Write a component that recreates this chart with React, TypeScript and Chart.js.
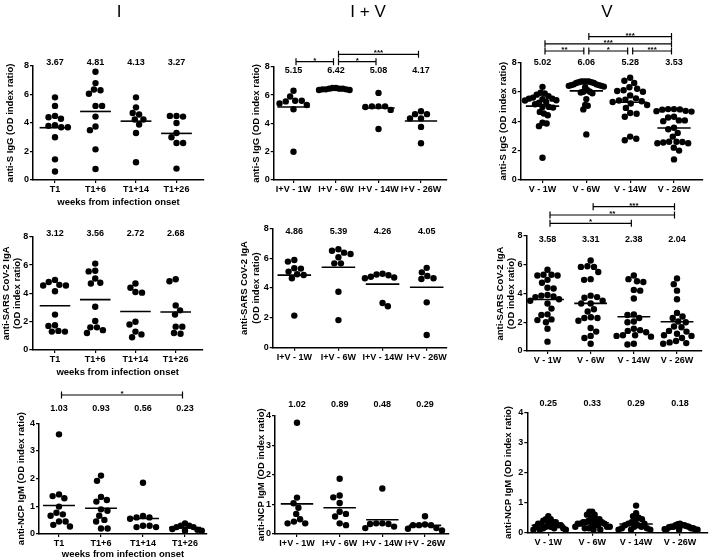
import React, { useEffect, useRef } from 'react';
import { Chart, registerables } from 'chart.js';

Chart.register(...registerables);

const FONT = "'Liberation Sans', Arial, Helvetica, sans-serif";

// ---------- categories ----------
const catsI = ['T1', 'T1+6', 'T1+14', 'T1+26'];
const catsIV = ['I+V - 1W', 'I+V - 6W', 'I+V - 14W', 'I+V - 26W'];
const catsV = ['V - 1W', 'V - 6W', 'V - 14W', 'V - 26W'];
const colTitles = ['I', 'I + V', 'V'];
const xTitle = 'weeks from infection onset';

// ---------- anti-S IgG ----------
const igG_I: number[][] = [
  [5.8, 5.2, 4.5, 4.4, 4.3, 3.85, 3.8, 3.7, 3.7, 3.0, 1.45, 0.6],
  [7.6, 6.8, 6.35, 6.3, 6.05, 5.2, 5.2, 4.45, 3.75, 3.5, 2.15, 0.77],
  [5.8, 5.1, 4.7, 4.6, 4.25, 4.25, 3.9, 3.3, 1.25],
  [4.5, 4.5, 4.45, 4.0, 3.3, 3.0, 2.6, 2.6, 0.8],
];
const igG_I_means = [3.67, 4.81, 4.13, 3.27];

const igG_IV: number[][] = [
  [6.3, 5.9, 5.6, 5.6, 5.55, 5.4, 5.3, 5.0, 2.0],
  [6.5, 6.5, 6.45, 6.45, 6.45, 6.4, 6.4, 6.4, 6.35, 6.35],
  [6.15, 5.2, 5.2, 5.2, 5.15, 4.95, 3.6],
  [4.85, 4.65, 4.65, 4.35, 4.35, 3.75, 2.6],
];
const igG_IV_means = [5.15, 6.42, 5.08, 4.17];
const igG_IV_sig: [number, number, number, string][] = [
  [1, 2, 0, '*'],
  [2, 3, 0, '*'],
  [2, 4, 1, '***'],
];

const igG_V: number[][] = [
  [6.33, 5.93, 5.88, 5.8, 5.7, 5.6, 5.53, 5.53, 5.5, 5.42, 5.4, 5.3, 5.25, 5.15, 4.97, 4.97, 4.92, 4.63, 4.52, 4.4, 3.89, 3.84, 3.66, 1.51],
  [6.7, 6.7, 6.7, 6.7, 6.65, 6.65, 6.6, 6.6, 6.5, 6.5, 6.45, 6.45, 6.4, 6.4, 6.35, 6.3, 6.1, 6.0, 6.0, 5.95, 5.9, 5.5, 5.1, 5.05, 4.8, 3.1],
  [6.95, 6.75, 6.6, 6.3, 6.2, 6.1, 6.05, 6.0, 5.75, 5.55, 5.45, 5.4, 5.35, 5.3, 5.2, 5.1, 4.9, 4.55, 4.5, 4.3, 2.95, 2.8, 2.7],
  [4.82, 4.82, 4.8, 4.78, 4.7, 4.68, 4.65, 4.3, 4.25, 4.05, 4.05, 4.0, 3.55, 3.45, 3.2, 2.95, 2.6, 2.6, 2.58, 2.55, 2.5, 2.5, 2.2, 2.0, 1.4],
];
const igG_V_means = [5.02, 6.06, 5.28, 3.53];
const igG_V_sig: [number, number, number, string][] = [
  [1, 2, 0, '**'],
  [2, 3, 0, '*'],
  [3, 4, 0, '***'],
  [1, 4, 1, '***'],
  [2, 4, 2, '***'],
];

// ---------- anti-SARS CoV-2 IgA ----------
const igA_I: number[][] = [
  [4.95, 4.8, 4.6, 4.55, 4.55, 4.15, 2.5, 1.75, 1.7, 1.35, 1.3, 1.3],
  [6.1, 5.6, 5.55, 5.05, 4.75, 4.7, 3.05, 2.05, 1.6, 1.6, 1.4, 1.2],
  [4.7, 4.4, 4.1, 4.05, 2.0, 1.8, 1.3, 1.1, 0.9],
  [5.0, 4.85, 3.15, 2.8, 2.5, 1.65, 1.65, 1.2, 1.15],
];
const igA_I_means = [3.12, 3.56, 2.72, 2.68];

const igA_IV: number[][] = [
  [5.88, 5.77, 5.32, 5.3, 5.1, 4.92, 4.87, 4.65, 2.15],
  [6.6, 6.5, 6.37, 6.28, 6.06, 5.65, 5.65, 3.75, 1.85],
  [4.95, 4.9, 4.85, 4.75, 4.7, 4.65, 3.0, 2.78],
  [5.35, 5.05, 4.8, 4.65, 4.6, 3.04, 0.85],
];
const igA_IV_means = [4.86, 5.39, 4.26, 4.05];

const igA_V: number[][] = [
  [5.65, 5.3, 5.3, 5.25, 5.25, 4.95, 4.75, 4.4, 4.35, 3.9, 3.85, 3.8, 3.75, 3.6, 3.5, 3.3, 2.95, 2.55, 2.5, 2.2, 2.15, 2.0, 1.55, 0.65],
  [6.3, 5.9, 5.85, 5.85, 5.5, 5.0, 4.95, 3.85, 3.75, 3.7, 3.5, 3.3, 3.3, 2.9, 2.75, 2.35, 2.3, 2.3, 2.1, 1.6, 1.35, 1.05, 0.9, 0.5],
  [5.25, 5.0, 4.85, 4.8, 4.25, 4.2, 3.65, 2.55, 2.5, 2.3, 2.05, 2.0, 1.55, 1.45, 1.4, 1.3, 1.1, 1.1, 1.05, 1.0, 0.5, 0.45],
  [5.05, 4.65, 4.2, 3.6, 2.65, 2.4, 2.3, 2.05, 2.0, 1.7, 1.65, 1.4, 1.35, 1.2, 1.05, 1.1, 0.9, 0.7, 0.6, 0.55, 0.5],
];
const igA_V_means = [3.58, 3.31, 2.38, 2.04];
const igA_V_sig: [number, number, number, string][] = [
  [1, 3, 0, '*'],
  [1, 4, 1, '**'],
  [2, 4, 2, '***'],
];

// ---------- anti-NCP IgM ----------
const igM_I: number[][] = [
  [3.6, 1.43, 1.37, 1.29, 0.99, 0.77, 0.71, 0.66, 0.45, 0.45, 0.33, 0.27],
  [2.11, 1.92, 1.34, 1.23, 1.17, 0.89, 0.84, 0.66, 0.51, 0.45, 0.2, 0.2],
  [1.85, 0.65, 0.6, 0.6, 0.55, 0.3, 0.25, 0.3, 0.25],
  [0.38, 0.3, 0.3, 0.25, 0.25, 0.18, 0.15, 0.12, 0.12],
];
const igM_I_means = [1.03, 0.93, 0.56, 0.23];
const igM_I_sig: [number, number, number, string][] = [[1, 4, 0, '*']];

const igM_IV: number[][] = [
  [3.76, 1.23, 1.04, 0.89, 0.68, 0.5, 0.42, 0.36, 0.36],
  [1.87, 1.3, 1.24, 1.05, 0.75, 0.68, 0.59, 0.36, 0.3],
  [1.54, 0.36, 0.36, 0.34, 0.34, 0.25, 0.2],
  [0.6, 0.32, 0.3, 0.3, 0.3, 0.2, 0.18, 0.12],
];
const igM_IV_means = [1.02, 0.89, 0.48, 0.29];

const igM_V: number[][] = [
  [0.55, 0.45, 0.45, 0.4, 0.35, 0.35, 0.3, 0.3, 0.3, 0.25, 0.25, 0.2, 0.2, 0.2, 0.15, 0.15, 0.15, 0.1, 0.1, 0.1],
  [0.7, 0.7, 0.6, 0.6, 0.5, 0.45, 0.45, 0.4, 0.4, 0.35, 0.35, 0.35, 0.3, 0.3, 0.3, 0.25, 0.25, 0.25, 0.2, 0.2, 0.2, 0.15, 0.15, 0.1, 0.1],
  [0.9, 0.65, 0.55, 0.5, 0.45, 0.4, 0.35, 0.3, 0.3, 0.25, 0.25, 0.2, 0.2, 0.15, 0.15, 0.1, 0.1, 0.1],
  [0.3, 0.28, 0.25, 0.25, 0.22, 0.2, 0.2, 0.18, 0.15, 0.15, 0.12, 0.12, 0.1, 0.1, 0.1, 0.2, 0.25],
];
const igM_V_means = [0.25, 0.33, 0.29, 0.18];

const titleS = ['anti-S IgG (OD index ratio)'];
const titleA = ['anti-SARS CoV-2 IgA', '(OD index ratio)'];
const titleM = ['anti-NCP IgM (OD index ratio)'];

// ---------- layout ----------
interface Panel {
  cats: string[];
  groups: number[][];
  means: number[];
  sig?: [number, number, number, string][];
  yMax: number;
  yStep: number;
  left: number; right: number; top: number; bottom: number;
  c1: number; c4: number;
  labelY: number;
  brY?: number; brStep?: number;
  yTitle: string[]; yTitleX: number[];
  xTitleY?: number;
  colTitle?: string; colTitleX?: number;
}

const panels: Panel[] = [
  { cats: catsI, groups: igG_I, means: igG_I_means, yMax: 8, yStep: 2,
    left: 33, right: 204, top: 66, bottom: 180, c1: 55, c4: 176.5, labelY: 63,
    yTitle: titleS, yTitleX: [10], xTitleY: 202, colTitle: colTitles[0], colTitleX: 119 },
  { cats: catsIV, groups: igG_IV, means: igG_IV_means, sig: igG_IV_sig, yMax: 8, yStep: 2,
    left: 273.7, right: 447, top: 66.7, bottom: 180, c1: 293.5, c4: 421, labelY: 71, brY: 61.7, brStep: 7.4,
    yTitle: titleS, yTitleX: [256.7], colTitle: colTitles[1], colTitleX: 368 },
  { cats: catsV, groups: igG_V, means: igG_V_means, sig: igG_V_sig, yMax: 8, yStep: 2,
    left: 520.7, right: 703, top: 62.3, bottom: 180, c1: 542.5, c4: 674, labelY: 63, brY: 51, brStep: 7.2,
    yTitle: titleS, yTitleX: [503], colTitle: colTitles[2], colTitleX: 607 },

  { cats: catsI, groups: igA_I, means: igA_I_means, yMax: 8, yStep: 2,
    left: 32.3, right: 203, top: 236.7, bottom: 350, c1: 55, c4: 175.7, labelY: 233.5,
    yTitle: titleA, yTitleX: [6.7, 17.5], xTitleY: 372 },
  { cats: catsIV, groups: igA_IV, means: igA_IV_means, yMax: 8, yStep: 2,
    left: 272.7, right: 447, top: 228.3, bottom: 347.7, c1: 294.3, c4: 426.7, labelY: 232,
    yTitle: titleA, yTitleX: [244.3, 256] },
  { cats: catsV, groups: igA_V, means: igA_V_means, sig: igA_V_sig, yMax: 8, yStep: 2,
    left: 526.5, right: 702, top: 236, bottom: 351, c1: 547.5, c4: 677, labelY: 240, brY: 223.3, brStep: 8.3,
    yTitle: titleA, yTitleX: [500, 511.5] },

  { cats: catsI, groups: igM_I, means: igM_I_means, sig: igM_I_sig, yMax: 4, yStep: 1,
    left: 39, right: 207, top: 423.3, bottom: 534, c1: 59, c4: 185, labelY: 409, brY: 395, brStep: 7,
    yTitle: titleM, yTitleX: [21.7], xTitleY: 554 },
  { cats: catsIV, groups: igM_IV, means: igM_IV_means, yMax: 4, yStep: 1,
    left: 275, right: 449, top: 415.7, bottom: 534, c1: 297, c4: 425, labelY: 405,
    yTitle: titleM, yTitleX: [261] },
  { cats: catsV, groups: igM_V, means: igM_V_means, yMax: 4, yStep: 1,
    left: 527.3, right: 708, top: 412.3, bottom: 532.7, c1: 548.3, c4: 680, labelY: 404,
    yTitle: titleM, yTitleX: [508.3] },
];

const W = 709;
const H = 560;
const Y_SCALE_W = 30;
const X_SCALE_H = 22;
const DOT_R = 3.2;
const MEAN_HALF = 0.38;
const SWARM_CAP = 0.4; // max half-width of a column, in category units

// beeswarm layout of a column (pixel-space collision avoidance, like a column scatter plot)
function swarm(vals: number[], pyPerUnit: number, pxPerCat: number, D: number): number[] {
  const order = vals.map((_, i) => i).sort((a, b) => vals[b] - vals[a]);
  const placed: { x: number; y: number }[] = [];
  const out: number[] = new Array(vals.length).fill(0);
  let flip = 1;
  for (const i of order) {
    const y = vals[i] * pyPerUnit;
    const ivs: [number, number][] = [];
    for (const p of placed) {
      const dy = Math.abs(p.y - y);
      if (dy < D) {
        const h = Math.sqrt(D * D - dy * dy);
        ivs.push([p.x - h, p.x + h]);
      }
    }
    const cands = [0];
    ivs.forEach(([a, b]) => cands.push(a, b));
    const ok = (c: number) => ivs.every(([a, b]) => c <= a + 1e-6 || c >= b - 1e-6);
    const valid = cands.filter(ok);
    valid.sort((a, b) => {
      const d = Math.abs(a) - Math.abs(b);
      if (Math.abs(d) > 1e-6) return d;
      return (a - b) * flip;
    });
    const x = valid[0];
    if (Math.abs(x) > 1e-6) flip = -flip;
    placed.push({ x, y });
    out[i] = x / pxPerCat;
  }
  const maxAbs = Math.max(...out.map((v) => Math.abs(v)));
  if (maxAbs > SWARM_CAP) return out.map((v) => (v * SWARM_CAP) / maxAbs);
  return out;
}

function makeChart(canvas: HTMLCanvasElement, p: Panel): Chart {
  const sp = (p.c4 - p.c1) / 3;
  const xMin = 1 - (p.c1 - p.left) / sp;
  const xMax = 4 + (p.right - p.c4) / sp;
  const pyPerUnit = (p.bottom - p.top) / p.yMax;

  const pointSets = p.groups.map((vals, g) => {
    const jit = swarm(vals, pyPerUnit, sp, DOT_R * 2 + 0.2);
    return {
      type: 'scatter' as const,
      data: vals.map((v, k) => ({ x: g + 1 + jit[k], y: v })),
      pointRadius: DOT_R,
      pointHoverRadius: DOT_R,
      backgroundColor: '#000',
      borderColor: '#000',
      borderWidth: 0,
      order: 2,
    };
  });
  const meanSets = p.means.map((m, g) => ({
    type: 'line' as const,
    data: [
      { x: g + 1 - MEAN_HALF, y: m },
      { x: g + 1 + MEAN_HALF, y: m },
    ],
    borderColor: '#000',
    borderWidth: 1.6,
    pointRadius: 0,
    fill: false,
    order: 1,
  }));

  const overlay = {
    id: 'overlay',
    afterDraw(chart: Chart) {
      const ctx = chart.ctx;
      const xs = chart.scales.x;
      const ca = chart.chartArea;
      ctx.save();
      ctx.fillStyle = '#000';
      ctx.strokeStyle = '#000';
      // mean labels
      ctx.font = `bold 9px ${FONT}`;
      ctx.textAlign = 'center';
      ctx.textBaseline = 'middle';
      p.means.forEach((m, i) => {
        ctx.fillText(m.toFixed(2), xs.getPixelForValue(i + 1), p.labelY);
      });
      // significance brackets
      (p.sig || []).forEach(([a, b, lvl, txt]) => {
        const y = (p.brY as number) - lvl * (p.brStep as number);
        const x1 = xs.getPixelForValue(a) + 2.5;
        const x2 = xs.getPixelForValue(b) - 2.5;
        ctx.lineWidth = 1.2;
        ctx.beginPath();
        ctx.moveTo(x1, y);
        ctx.lineTo(x2, y);
        ctx.moveTo(x1, y - 3.5);
        ctx.lineTo(x1, y + 3.5);
        ctx.moveTo(x2, y - 3.5);
        ctx.lineTo(x2, y + 3.5);
        ctx.stroke();
        ctx.font = `bold 8px ${FONT}`;
        ctx.textBaseline = 'alphabetic';
        ctx.fillText(txt, (x1 + x2) / 2, y + 1);
      });
      // y axis title
      ctx.font = `bold 9.5px ${FONT}`;
      const cy = (ca.top + ca.bottom) / 2;
      p.yTitle.forEach((t, k) => {
        ctx.save();
        ctx.translate(p.yTitleX[k], cy);
        ctx.rotate(-Math.PI / 2);
        ctx.textAlign = 'center';
        ctx.textBaseline = 'middle';
        ctx.fillText(t, 0, 0);
        ctx.restore();
      });
      // x axis title
      if (p.xTitleY) {
        ctx.font = `bold 9.5px ${FONT}`;
        ctx.textAlign = 'center';
        ctx.textBaseline = 'middle';
        ctx.fillText(xTitle, (ca.left + ca.right) / 2, p.xTitleY);
      }
      // column title
      if (p.colTitle) {
        ctx.font = `17px ${FONT}`;
        ctx.textAlign = 'center';
        ctx.textBaseline = 'alphabetic';
        ctx.fillText(p.colTitle, p.colTitleX as number, 16.5);
      }
      ctx.restore();
    },
  };

  const tickFont = { family: FONT, size: 9, weight: 'bold' as const };

  return new Chart(canvas, {
    type: 'scatter',
    data: { datasets: [...meanSets, ...pointSets] as any },
    options: {
      responsive: false,
      animation: false,
      events: [],
      plugins: { legend: { display: false }, tooltip: { enabled: false } },
      layout: {
        autoPadding: false,
        padding: {
          left: p.left - Y_SCALE_W,
          right: W - p.right,
          top: p.top,
          bottom: H - p.bottom - X_SCALE_H,
        },
      },
      scales: {
        x: {
          type: 'linear',
          min: xMin,
          max: xMax,
          afterBuildTicks: (s: any) => {
            s.ticks = [1, 2, 3, 4].map((v) => ({ value: v }));
          },
          afterFit: (s: any) => {
            s.height = X_SCALE_H;
          },
          ticks: {
            callback: (_v: any, i: number) => p.cats[i],
            font: tickFont,
            color: '#000',
            padding: 1,
            maxRotation: 0,
            minRotation: 0,
            autoSkip: false,
          },
          grid: { display: true, drawOnChartArea: false, drawTicks: true, tickLength: 3, color: '#000', lineWidth: 1.2 },
          border: { display: true, color: '#000', width: 1.5 },
        },
        y: {
          type: 'linear',
          min: 0,
          max: p.yMax,
          afterFit: (s: any) => {
            s.width = Y_SCALE_W;
          },
          ticks: { stepSize: p.yStep, font: tickFont, color: '#000', padding: 1 },
          grid: { display: true, drawOnChartArea: false, drawTicks: true, tickLength: 3, color: '#000', lineWidth: 1.2 },
          border: { display: true, color: '#000', width: 1.5 },
        },
      },
    },
    plugins: [overlay],
  } as any);
}

export default function App() {
  const refs = useRef<(HTMLCanvasElement | null)[]>([]);
  useEffect(() => {
    const charts = panels.map((p, i) => makeChart(refs.current[i] as HTMLCanvasElement, p));
    return () => charts.forEach((c) => c.destroy());
  }, []);
  return (
    <div style={{ position: 'absolute', left: 0, top: 0, width: W, height: H, background: '#fff' }}>
      {panels.map((_, i) => (
        <canvas
          key={i}
          ref={(el) => {
            refs.current[i] = el;
          }}
          width={W}
          height={H}
          style={{ position: 'absolute', left: 0, top: 0, width: W, height: H }}
        />
      ))}
    </div>
  );
}
